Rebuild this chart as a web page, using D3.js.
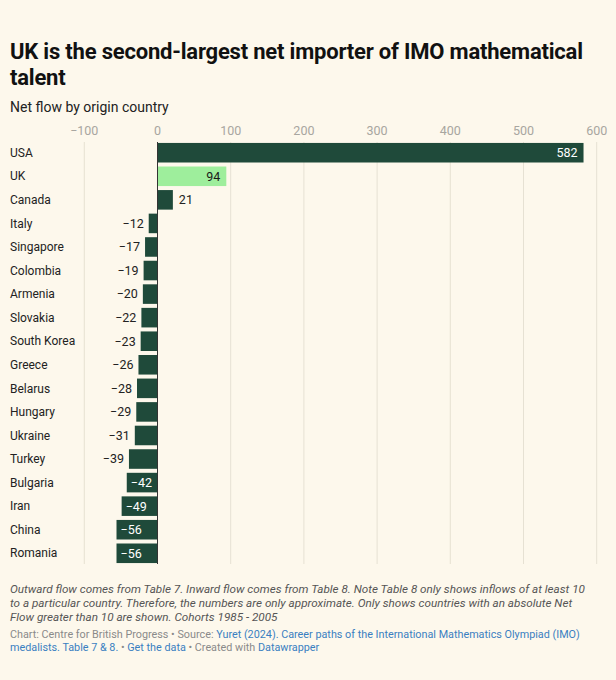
<!DOCTYPE html>
<html>
<head>
<meta charset="utf-8">
<script src="https://cdn.jsdelivr.net/npm/d3@7"></script>
<style>
  html, body { margin: 0; padding: 0; background: #fdf8ec; }
  body { width: 616px; height: 680px; font-family: Roboto, "Noto Sans", sans-serif; }
  svg text { font-family: Roboto, "Noto Sans", sans-serif; }
</style>
</head>
<body>
<div id="chart"></div>
<script>
// data
const countries = ["USA", "UK", "Canada", "Italy", "Singapore", "Colombia", "Armenia",
  "Slovakia", "South Korea", "Greece", "Belarus", "Hungary", "Ukraine", "Turkey",
  "Bulgaria", "Iran", "China", "Romania"];
const netFlow = [582, 94, 21, -12, -17, -19, -20, -22, -23, -26, -28, -29, -31, -39,
  -42, -49, -56, -56];
const highlight = "UK";
const xTicks = [-100, 0, 100, 200, 300, 400, 500, 600];

const titleLines = ["UK is the second-largest net importer of IMO mathematical", "talent"];
const subtitle = "Net flow by origin country";
const notes = [
  "Outward flow comes from Table 7. Inward flow comes from Table 8. Note Table 8 only shows inflows of at least 10",
  "to a particular country. Therefore, the numbers are only approximate. Only shows countries with an absolute Net",
  "Flow greater than 10 are shown. Cohorts 1985 - 2005"
];

const data = countries.map((c, i) => ({ country: c, value: netFlow[i] }));

const W = 616, H = 680;
const svg = d3.select("#chart").append("svg")
  .attr("width", W).attr("height", H);

svg.append("rect").attr("width", W).attr("height", H).attr("fill", "#fdf8ec");

// ----- header -----
svg.selectAll(".title").data(titleLines).enter().append("text")
  .attr("class", "title")
  .attr("x", 10).attr("y", (d, i) => 59 + i * 26)
  .attr("font-size", 22).attr("font-weight", 700)
  .attr("fill", "#111").attr("letter-spacing", -0.2)
  .text(d => d);

svg.append("text")
  .attr("x", 10).attr("y", 112)
  .attr("font-size", 14).attr("fill", "#222")
  .text(subtitle);

// ----- scales -----
const x = d3.scaleLinear().domain([-100, 600]).range([84.3, 596.7]);
const y = d3.scaleBand().domain(countries).range([142, 564]).paddingInner(0.17).paddingOuter(0.04);

// grid + tick labels
const grid = svg.append("g");
grid.selectAll("line").data(xTicks.filter(t => t !== 0)).enter().append("line")
  .attr("x1", d => x(d)).attr("x2", d => x(d))
  .attr("y1", 142).attr("y2", 564)
  .attr("stroke", "#e6e1d3").attr("stroke-width", 1);

svg.append("g").selectAll("text").data(xTicks).enter().append("text")
  .attr("x", d => x(d)).attr("y", 135)
  .attr("text-anchor", "middle")
  .attr("font-size", 12.5).attr("fill", "#a8a6a0")
  .text(d => d3.format("d")(d).replace("-", "\u2212"));

// ----- bars -----
const dark = "#1f4a3a", light = "#9eee9c";

svg.append("g").selectAll("rect").data(data).enter().append("rect")
  .attr("x", d => x(Math.min(0, d.value)))
  .attr("width", d => Math.abs(x(d.value) - x(0)))
  .attr("y", d => y(d.country))
  .attr("height", y.bandwidth())
  .attr("fill", d => d.country === highlight ? light : dark);

// zero line
svg.append("line")
  .attr("x1", x(0)).attr("x2", x(0))
  .attr("y1", 142).attr("y2", 564)
  .attr("stroke", "#333").attr("stroke-width", 1);

// country labels
svg.append("g").selectAll("text").data(data).enter().append("text")
  .attr("x", 10)
  .attr("y", d => y(d.country) + y.bandwidth() / 2)
  .attr("dy", "0.35em")
  .attr("font-size", 12).attr("fill", "#222")
  .text(d => d.country);

// value labels: inside when the bar is wide enough, else outside
const fmt = v => String(v).replace("-", "\u2212");
svg.append("g").selectAll("text").data(data).enter().append("text")
  .each(function (d) {
    const w = Math.abs(x(d.value) - x(0));
    const inside = w > 30;
    const t = d3.select(this);
    let xpos, anchor;
    if (d.value >= 0) {
      xpos = inside ? x(d.value) - 6 : x(d.value) + 6;
      anchor = inside ? "end" : "start";
    } else {
      xpos = inside ? x(d.value) + 4 : x(d.value) - 5;
      anchor = inside ? "start" : "end";
    }
    t.attr("x", xpos).attr("text-anchor", anchor)
      .attr("fill", inside ? (d.country === highlight ? "#1a1a1a" : "#fff") : "#222");
  })
  .attr("y", d => y(d.country) + y.bandwidth() / 2)
  .attr("dy", "0.35em")
  .attr("font-size", 12.5)
  .text(d => fmt(d.value));

// ----- footer -----
svg.append("g").selectAll("text").data(notes).enter().append("text")
  .attr("x", 10).attr("y", (d, i) => 593 + i * 14)
  .attr("font-size", 11.7).attr("font-style", "italic").attr("fill", "#555")
  .text(d => d);

const grey = "#8a8a8a", blue = "#3a7fc1";
const src1 = svg.append("text").attr("x", 10).attr("y", 638).attr("font-size", 10.8);
[["Chart: Centre for British Progress \u2022 Source: ", grey],
 ["Yuret (2024). Career paths of the International Mathematics Olympiad (IMO)", blue]]
  .forEach(([t, c]) => src1.append("tspan").attr("fill", c).text(t));

const src2 = svg.append("text").attr("x", 10).attr("y", 651).attr("font-size", 10.8);
[["medalists. Table 7 & 8.", blue], [" \u2022 ", grey], ["Get the data", blue],
 [" \u2022 Created with ", grey], ["Datawrapper", blue]]
  .forEach(([t, c]) => src2.append("tspan").attr("fill", c).text(t));
</script>
</body>
</html>
